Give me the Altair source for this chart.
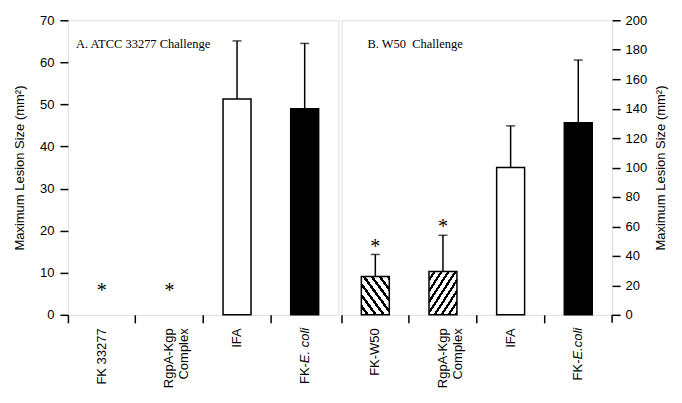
import altair as alt
import pandas as pd

# ---------------- data ----------------
left_labels = ["FK 33277", "RgpA-Kgp|Complex", "IFA", "FK-E. coli"]
left_means = [0, 0, 51.3, 49.0]
left_errors = [0, 0, 13.8, 15.5]
left_stars = [6.5, 6.5, None, None]
left_styles = ["none", "none", "open", "solid"]

right_labels = ["FK-W50", "RgpA-Kgp|Complex", "IFA", "FK-E.coli"]
right_means = [26.0, 29.5, 100.0, 130.5]
right_errors = [15.0, 24.5, 28.3, 42.5]
right_stars = [49.0, 62.5, None, None]
right_styles = ["hatch_back", "hatch_fwd", "open", "solid"]

y_title = "Maximum Lesion Size (mm²)"
W, H = 271, 295
BAR = 28
SANS = "Liberation Sans"
SERIF = "Liberation Serif"

# Arial-compatible advance widths (per 1000 em) used to butt the italic word
# against the upright "FK-" prefix
ADV = {"E": 667, ".": 278, " ": 278, "c": 500, "o": 556, "l": 222, "i": 222}


def text_width(s, size):
    return sum(ADV.get(ch, 556) for ch in s) * size / 1000.0


def stripes(n, frac, back):
    stops = []
    for i in range(n):
        a = i / n
        b = (i + 1 - frac) / n
        c = (i + 1) / n
        stops += [
            alt.GradientStop(offset=a, color="white"),
            alt.GradientStop(offset=b, color="white"),
            alt.GradientStop(offset=b, color="black"),
            alt.GradientStop(offset=c, color="black"),
        ]
    if back:
        return alt.LinearGradient(gradient="linear", stops=stops, x1=0, y1=1, x2=1, y2=0)
    return alt.LinearGradient(gradient="linear", stops=stops, x1=0, y1=0, x2=1, y2=1)


def panel(labels, means, errors, stars, styles, ymax, ystep, orient, title_text, title_x, italic_word):
    df = pd.DataFrame({
        "label": labels, "mean": means, "err": errors,
        "star": stars, "style": styles,
    })
    df["top"] = df["mean"] + df["err"]
    xenc = alt.X(
        "label:N", sort=labels, title=None,
        scale=alt.Scale(paddingInner=0, paddingOuter=0),
        axis=alt.Axis(
            labelAngle=270, bandPosition=0, tickSize=8, tickWidth=1.5,
            tickColor="black", domain=False, labelPadding=5,
            labelFont=SANS, labelFontSize=13, labelColor="black",
            labelExpr="indexof(datum.value, 'coli') >= 0 ? '' : split(datum.value, '|')",
        ),
    )
    yscale = alt.Scale(domain=[0, ymax], nice=False, zero=True)
    if orient == "left":
        pad = dict(labelPadding=6, titlePadding=13)
    else:
        pad = dict(labelPadding=5, titlePadding=8, titleBaseline="top")
    yaxis = alt.Axis(
        orient=orient, values=list(range(0, ymax + 1, ystep)), tickSize=8,
        tickWidth=1.5, tickColor="black", domain=False, grid=False,
        labelOverlap=False,
        labelFont=SANS, labelFontSize=13, labelColor="black",
        titleFont=SANS, titleFontSize=13, titleFontWeight="normal",
        titleColor="black", titleAngle=270, **pad,
    )
    yenc = alt.Y("mean:Q", title=y_title, scale=yscale, axis=yaxis)
    ytop = alt.Y("top:Q", title=y_title, scale=yscale, axis=yaxis)
    ystar = alt.Y("star:Q", title=y_title, scale=yscale, axis=yaxis)

    base = alt.Chart(df)
    layers = []
    layers.append(
        base.transform_filter("datum.style == 'open'")
        .mark_bar(size=BAR, fill="white", stroke="black", strokeWidth=1.5)
        .encode(x=xenc, y=yenc)
    )
    layers.append(
        base.transform_filter("datum.style == 'solid'")
        .mark_bar(size=BAR, fill="black", stroke="black", strokeWidth=1.5)
        .encode(x=xenc, y=yenc)
    )
    layers.append(
        base.transform_filter("datum.style == 'hatch_back'")
        .mark_bar(size=BAR, fill=stripes(7, 0.38, True), stroke="black", strokeWidth=1.5)
        .encode(x=xenc, y=yenc)
    )
    layers.append(
        base.transform_filter("datum.style == 'hatch_fwd'")
        .mark_bar(size=BAR, fill=stripes(8, 0.38, False), stroke="black", strokeWidth=1.5)
        .encode(x=xenc, y=yenc)
    )
    layers.append(
        base.transform_filter("datum.err > 0")
        .mark_rule(color="black", strokeWidth=1.5)
        .encode(x=xenc, y=yenc, y2="top:Q")
    )
    layers.append(
        base.transform_filter("datum.err > 0")
        .mark_tick(orient="horizontal", size=9, thickness=1.5, color="black")
        .encode(x=xenc, y=ytop)
    )
    layers.append(
        base.transform_filter("datum.star != null")
        .mark_text(text="*", font=SERIF, fontSize=20, baseline="middle", dy=4, color="black")
        .encode(x=xenc, y=ystar)
    )
    # italic organism name in the last category label
    ecoli = base.transform_filter("indexof(datum.label, 'coli') >= 0")
    layers.append(
        ecoli.mark_text(text=italic_word, font=SANS, fontSize=13, fontStyle="italic",
                        angle=270, align="right", baseline="middle", color="black")
        .encode(x=xenc, y=alt.value(H + 13))
    )
    layers.append(
        ecoli.mark_text(text="FK-", font=SANS, fontSize=13,
                        angle=270, align="right", baseline="middle", color="black",
                        dx=-text_width(italic_word, 13))
        .encode(x=xenc, y=alt.value(H + 13))
    )
    layers.append(
        alt.Chart(pd.DataFrame({"t": [title_text]}))
        .mark_text(font=SERIF, fontSize=12.5, align="left", baseline="middle", color="black")
        .encode(text="t:N", x=alt.value(title_x), y=alt.value(24))
    )
    if orient == "right":
        layers.append(
            alt.Chart(pd.DataFrame({"t": [0]}))
            .mark_rule(color="black", strokeWidth=1.5)
            .encode(x=alt.value(W), y=alt.value(H), y2=alt.value(H + 8))
        )
    return alt.layer(*layers).properties(width=W, height=H)


left = panel(left_labels, left_means, left_errors, left_stars, left_styles,
             70, 10, "left", "A. ATCC 33277 Challenge", 8, "E. coli")
right = panel(right_labels, right_means, right_errors, right_stars, right_styles,
              200, 20, "right", "B. W50\u00a0 Challenge", 26, "E.coli")

chart = (
    alt.hconcat(left, right, spacing=0)
    .configure_view(stroke="black", strokeWidth=1.5)
    .configure(background="white")
)

chart.save("out.html", embed_options={"renderer": "svg", "actions": False})
